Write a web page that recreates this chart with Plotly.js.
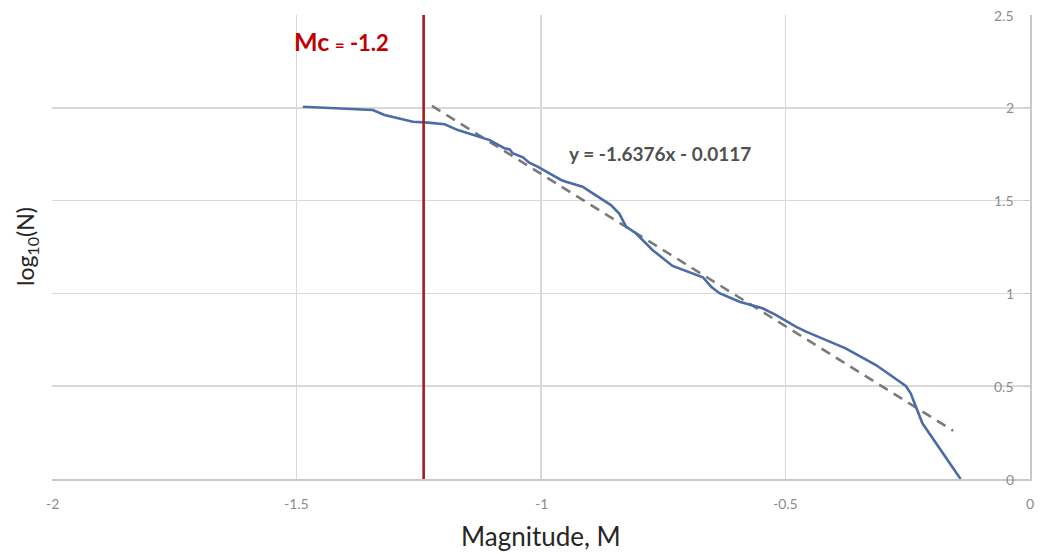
<!DOCTYPE html>
<html>
<head>
<meta charset="utf-8">
<script src="https://cdn.plot.ly/plotly-3.0.1.min.js"></script>
<style>html,body{margin:0;padding:0;background:#fff;}#chart{width:1053px;height:554px;}</style>
</head>
<body>
<div id="chart"></div>
<script>
// Cumulative frequency-magnitude curve
const magnitude = [-1.487, -1.401, -1.344, -1.320, -1.299, -1.262, -1.231, -1.197, -1.170, -1.136,
  -1.105, -1.075, -1.064, -1.058, -1.037, -1.024, -1.007, -0.989, -0.959, -0.949,
  -0.915, -0.894, -0.857, -0.840, -0.826, -0.806, -0.772, -0.731, -0.703, -0.669,
  -0.652, -0.635, -0.594, -0.547, -0.520, -0.479, -0.458, -0.377, -0.315, -0.254,
  -0.244, -0.220, -0.142];
const logN = [2.006, 1.997, 1.988, 1.961, 1.947, 1.925, 1.920, 1.911, 1.880, 1.853,
  1.826, 1.782, 1.776, 1.755, 1.733, 1.704, 1.683, 1.656, 1.611, 1.602,
  1.575, 1.539, 1.476, 1.430, 1.360, 1.324, 1.234, 1.148, 1.122, 1.087,
  1.036, 1.001, 0.955, 0.920, 0.884, 0.821, 0.794, 0.704, 0.614, 0.501,
  0.462, 0.300, 0.0];
// Linear trendline endpoints
const trendX = [-1.223, -0.157];
const trendY = [2.01, 0.26];
const trendLabel = "y = -1.6376x - 0.0117";
// Magnitude of completeness marker
const mcX = -1.24;
const mcValue = "-1.2";
const xTicks = [-2, -1.5, -1, -0.5, 0];
const xTickText = ["-2", "-1.5", "-1", "-0.5", "0"];
const yTicks = [0, 0.5, 1, 1.5, 2, 2.5];
const yTickText = ["0", "0.5", "1", "1.5", "2", "2.5"];

const traces = [
  {x: trendX, y: trendY, mode: 'lines', line: {color: '#7a7a7a', width: 2.6, dash: '10px,7px'}, hoverinfo: 'skip'},
  {x: magnitude, y: logN, mode: 'lines', line: {color: '#4a6da8', width: 2.6}},
  {x: [mcX, mcX], y: [0, 2.5], mode: 'lines', line: {color: '#a81a1a', width: 2.6}}
];

const tickFont = {family: 'Lato, "Open Sans", sans-serif', size: 14, color: '#8c8c8c'};
const annotations = [];
xTicks.forEach((v, i) => annotations.push({
  x: v, xref: 'x', y: 0, yref: 'paper', yanchor: 'top', yshift: -14, xanchor: 'center',
  showarrow: false, text: xTickText[i], font: tickFont
}));
yTicks.forEach((v, i) => annotations.push({
  x: 1, xref: 'paper', y: v, yref: 'y', xanchor: 'right', yanchor: 'middle', xshift: -14,
  showarrow: false, text: yTickText[i], font: tickFont
}));
annotations.push(
  {xref: 'paper', yref: 'paper', x: 0.5, y: 0, yshift: -57, xanchor: 'center', yanchor: 'middle',
   showarrow: false, text: 'Magnitude, M', font: {size: 26, color: '#262626'}},
  {xref: 'paper', yref: 'paper', x: 0, y: 0.5, xshift: -26, xanchor: 'center', yanchor: 'middle',
   textangle: -90, showarrow: false, text: 'log<sub>10</sub>(N)', font: {size: 23, color: '#262626'}},
  {x: -0.756, y: 1.756, xref: 'x', yref: 'y', showarrow: false,
   text: '<b>' + trendLabel + '</b>', font: {size: 19, color: '#505050'}},
  {x: -1.408, y: 2.36, xref: 'x', yref: 'y', showarrow: false,
   text: '<b><span style="font-size:25px">Mc</span> <span style="font-size:17px">=</span> <span style="font-size:22px">' + mcValue + '</span></b>',
   font: {size: 22, color: '#c00000'}}
);

const layout = {
  width: 1053, height: 554,
  margin: {l: 52, r: 23, t: 15, b: 75},
  paper_bgcolor: '#ffffff', plot_bgcolor: '#ffffff',
  showlegend: false,
  font: {family: 'Lato, "Open Sans", sans-serif', color: '#404040'},
  xaxis: {
    range: [-2, 0], tickvals: xTicks, showticklabels: false,
    showgrid: true, gridcolor: '#d9d9d9', gridwidth: 1.5,
    zeroline: false, showline: true, linecolor: '#c8c8c8', linewidth: 1.5, ticks: ''
  },
  yaxis: {
    range: [0, 2.5], tickvals: yTicks, showticklabels: false, side: 'right',
    showgrid: true, gridcolor: '#d9d9d9', gridwidth: 1.5,
    zeroline: false, showline: true, linecolor: '#c8c8c8', linewidth: 1.5,
    ticks: 'inside', ticklen: 6, tickcolor: '#c8c8c8'
  },
  annotations: annotations
};

Plotly.newPlot('chart', traces, layout, {staticPlot: true, displayModeBar: false});
</script>
</body>
</html>
